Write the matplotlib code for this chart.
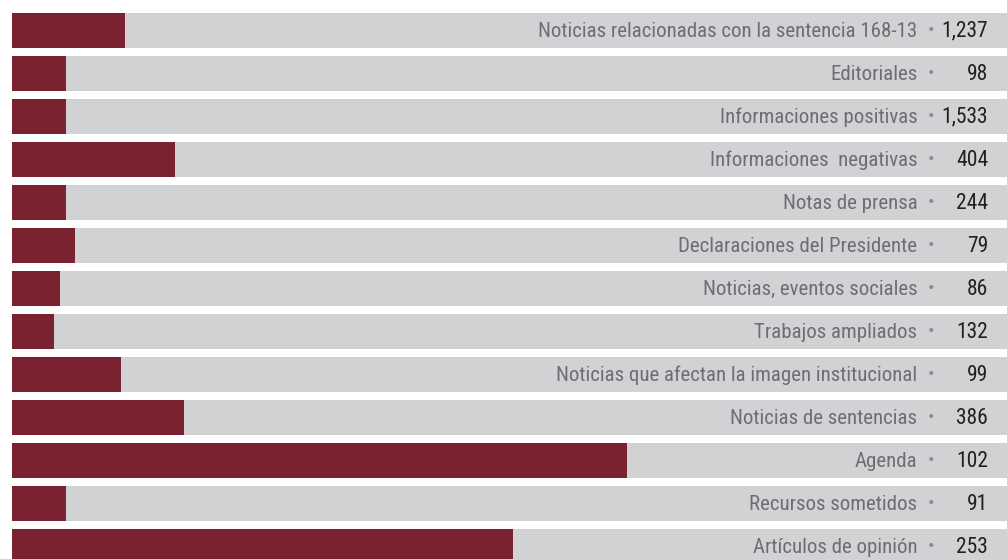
import matplotlib.pyplot as plt

categorias = [
    "Noticias relacionadas con la sentencia 168-13",
    "Editoriales",
    "Informaciones positivas",
    "Informaciones  negativas",
    "Notas de prensa",
    "Declaraciones del Presidente",
    "Noticias, eventos sociales",
    "Trabajos ampliados",
    "Noticias que afectan la imagen institucional",
    "Noticias de sentencias",
    "Agenda",
    "Recursos sometidos",
    "Artículos de opinión",
]
valores = ["1,237", "98", "1,533", "404", "244", "79", "86", "132", "99", "386", "102", "91", "253"]
# bar length as share of the grey track (%)
barras = [11.4, 5.4, 5.4, 16.4, 5.4, 6.3, 4.8, 4.2, 11.0, 17.3, 61.8, 5.4, 50.4]

granate = "#7b2230"
gris = "#d1d2d4"

plt.rcParams['font.family'] = ['Roboto Condensed', 'DejaVu Sans']

fig = plt.figure(figsize=(10.07, 5.59), dpi=100)
ax = fig.add_axes([12 / 1007, 0, 995 / 1007, 1])

n = len(categorias)
y = list(range(n))
ax.barh(y, [100] * n, height=35 / 43, color=gris)
ax.barh(y, barras, height=35 / 43, color=granate)

for i in range(n):
    ax.text(91.0, i + 0.02, categorias[i], ha="right", va="center",
            fontsize=15, color="#6d6e71")
    ax.text(92.4, i + 0.02, "•", ha="center", va="center",
            fontsize=14, color="#8a8b8e")
    ax.text(98.1, i + 0.02, valores[i], ha="right", va="center",
            fontsize=15.5, color="#231f20")

ax.set_xlim(0, 100)
ax.set_ylim((559 - 30.5) / 43, -30.5 / 43)
ax.axis("off")

fig.savefig("out.png", dpi=100)
